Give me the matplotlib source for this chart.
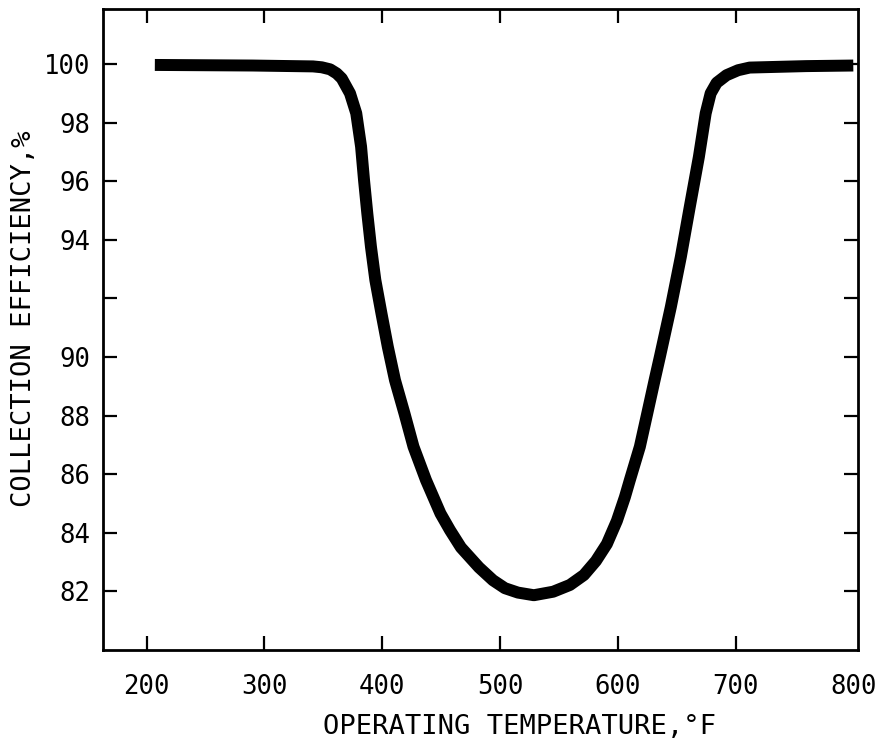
from __future__ import annotations

import matplotlib

matplotlib.use("Agg")
import matplotlib.pyplot as plt


# curve (deg F, percent)
TEMPERATURE_F = [207, 290, 341.3, 348.7, 355.8, 361.4, 365.7, 372.7, 378.0, 382.1,
                 384.6, 387.4, 390.5, 394.2, 399.4, 404.8, 410.9, 418.9, 426.6, 437.2,
                 449.5, 457.6, 466.9, 482.2, 494.1, 504.2, 515.3, 528.8, 545.2, 559.4,
                 571.3, 581.5, 590.8, 599.3, 606.1, 610.3, 618.8, 625.1, 631.3, 635.8,
                 645.1, 653.6, 661.2, 668.9, 674.7, 678.9, 684.0, 692.4, 702.2, 712.0,
                 760.0, 800.0]
EFFICIENCY_PCT = [99.97, 99.95, 99.92, 99.89, 99.82, 99.68, 99.51, 99.0, 98.32, 97.18,
                  96.04, 94.90, 93.76, 92.63, 91.49, 90.35, 89.21, 88.08, 86.94, 85.80,
                  84.66, 84.09, 83.50, 82.82, 82.38, 82.11, 81.96, 81.87, 81.99, 82.22,
                  82.56, 83.04, 83.62, 84.41, 85.22, 85.80, 86.94, 88.08, 89.21, 90.01,
                  91.71, 93.42, 95.13, 96.83, 98.32, 99.0, 99.36, 99.62, 99.79, 99.88,
                  99.93, 99.95]

X_TICKS = [200, 300, 400, 500, 600, 700, 800]
Y_TICKS = [82, 84, 86, 88, 90, 92, 94, 96, 98, 100]
Y_TICK_LABELS = ["82", "84", "86", "88", "90", "", "94", "96", "98", "100"]

X_LABEL = "OPERATING TEMPERATURE,°F"
Y_LABEL = "COLLECTION EFFICIENCY,%"

FONT = ["DejaVu Sans Mono", "DejaVu Sans"]


def main() -> None:
    plt.rcParams["font.family"] = FONT
    fig = plt.figure(figsize=(8.79, 7.48), dpi=100)
    ax = fig.add_axes([0.1172, 0.1310, 0.8589, 0.8566])

    ax.plot(TEMPERATURE_F, EFFICIENCY_PCT, color="black", linewidth=8.6,
            solid_joinstyle="round", solid_capstyle="butt")

    ax.set_xlim(163, 804)
    ax.set_ylim(80.0, 101.87)
    ax.set_xticks(X_TICKS)
    ax.set_yticks(Y_TICKS)
    ax.set_yticklabels(Y_TICK_LABELS)

    ax.tick_params(direction="in", top=True, right=True, length=10, width=1.6,
                   labelsize=18.5)
    ax.tick_params(axis="x", pad=17)
    ax.tick_params(axis="y", pad=9)
    # no tick mark at 800, it would sit on the right frame
    last = ax.xaxis.get_major_ticks()[-1]
    last.tick1line.set_visible(False)
    last.tick2line.set_visible(False)

    for spine in ax.spines.values():
        spine.set_linewidth(2.0)

    ax.set_xlabel(X_LABEL, fontsize=19.5, va="center")
    ax.xaxis.set_label_coords(0.551, -0.1197)
    ax.set_ylabel(Y_LABEL, fontsize=19.5, va="center")
    ax.yaxis.set_label_coords(-0.1046, 0.517)

    fig.savefig("out.png", dpi=100)
    plt.close(fig)


if __name__ == "__main__":
    main()
